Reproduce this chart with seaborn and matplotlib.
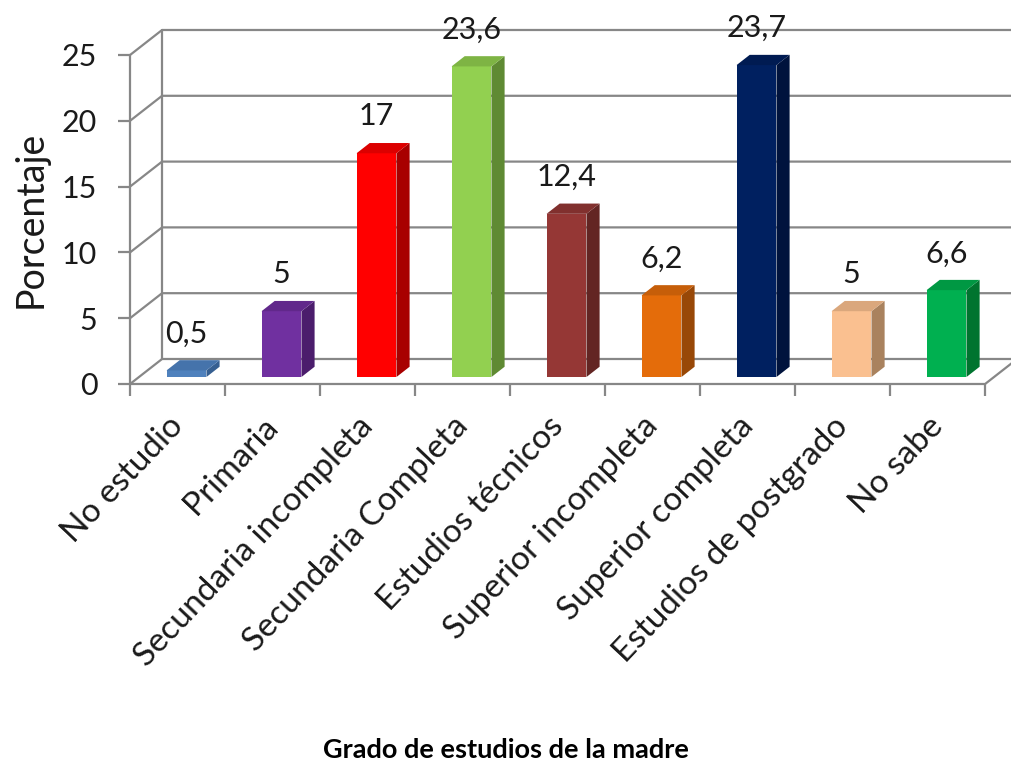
import numpy as np
import pandas as pd
import matplotlib
matplotlib.use('Agg')
import matplotlib.pyplot as plt
import matplotlib.colors as mcolors
from matplotlib.patches import Polygon
from matplotlib.transforms import ScaledTranslation
import seaborn as sns

# ==================== datos ====================
categorias = ['No estudio', 'Primaria', 'Secundaria incompleta', 'Secundaria Completa',
              'Estudios técnicos', 'Superior incompleta', 'Superior completa',
              'Estudios de postgrado', 'No sabe']
porcentajes = [0.5, 5, 17, 23.6, 12.4, 6.2, 23.7, 5, 6.6]
colores = ['#4F81BD', '#7030A0', '#FF0000', '#92D050', '#953735',
           '#E46C0A', '#002060', '#FAC090', '#00B050']
colores_lado = ['#365F91', '#4B1D6C', '#A80000', '#5F8A33', '#632523',
                '#984807', '#00133D', '#A9825E', '#00742F']
y_ticks = [0, 5, 10, 15, 20, 25]
titulo_x = 'Grado de estudios de la madre'
titulo_y = 'Porcentaje'

# ==================== estilo ====================
sns.set_theme(style='white')
plt.rcParams['font.family'] = ['Lato', 'DejaVu Sans']
gris = '#878787'

fig = plt.figure(figsize=(10.12, 7.66), dpi=100)
ax = fig.add_axes([0.1285, 0.4987, 0.8449, 0.4295])

df = pd.DataFrame({'grado': categorias, 'pct': porcentajes})
sns.barplot(data=df, x='grado', y='pct', hue='grado', palette=colores, legend=False,
            width=0.42, saturation=1, linewidth=0, ax=ax, zorder=3)

ax.set_xlim(-0.5, len(categorias) - 0.5)
ax.set_ylim(0, 25)
for s in ax.spines.values():
    s.set_visible(False)
ax.grid(False)

# profundidad del "3D"
dx, dy = 0.337, 1.9
z0, z1 = 0.28, 0.69
xi, xf = -0.5, len(categorias) - 0.5

# pared del fondo, pared lateral y suelo
for v in y_ticks:
    ax.plot([xi, xi + dx, xf + dx + 1], [v, v + dy, v + dy], color=gris, lw=1.6,
            zorder=1, clip_on=False, solid_capstyle='butt')
ax.plot([xi + dx, xi + dx], [dy, 25 + dy], color=gris, lw=1.6, zorder=1, clip_on=False)
ax.plot([xi, xi], [0, 25], color=gris, lw=1.6, zorder=4, clip_on=False)
ax.plot([xi, xf, xf + dx], [0, 0, dy], color=gris, lw=1.6, zorder=4, clip_on=False)

# caras laterales y superiores de las barras
for p, c, cl, val in zip(ax.patches, colores, colores_lado, porcentajes):
    w = p.get_width()
    h = p.get_height()
    x0 = p.get_x() + z0 * dx
    y0 = z0 * dy
    p.set_x(x0)
    p.set_y(y0)
    ddx = (z1 - z0) * dx
    ddy = (z1 - z0) * dy
    lado = Polygon([(x0 + w, y0), (x0 + w + ddx, y0 + ddy), (x0 + w + ddx, y0 + ddy + h),
                    (x0 + w, y0 + h)], closed=True, fc=cl, ec='none', zorder=3, clip_on=False)
    c_top = np.array(mcolors.to_rgb(c)) * 0.6 + np.array(mcolors.to_rgb(cl)) * 0.4
    tapa = Polygon([(x0, y0 + h), (x0 + ddx, y0 + h + ddy), (x0 + w + ddx, y0 + h + ddy),
                    (x0 + w, y0 + h)], closed=True, fc=c_top, ec='none', zorder=3, clip_on=False)
    ax.add_patch(lado)
    ax.add_patch(tapa)
    etiqueta = f'{val:g}'.replace('.', ',')
    ax.text(x0 + w / 2, y0 + h + 2.8, etiqueta, ha='center', va='center',
            fontsize=22, color='#1a1a1a', zorder=5, clip_on=False)

# ejes
ax.set_yticks(y_ticks)
ax.set_yticklabels([str(t) for t in y_ticks], fontsize=22, color='#1a1a1a')
ax.tick_params(axis='y', which='major', left=True, length=8.6, width=1.6, color=gris, pad=15)

ax.set_xticks(range(len(categorias)))
ax.set_xticks(np.arange(-0.5, len(categorias)), minor=True)
ax.tick_params(axis='x', which='minor', bottom=True, length=8.6, width=1.6, color=gris)
ax.tick_params(axis='x', which='major', bottom=False, length=0, pad=27)
ax.set_xticklabels(categorias, rotation=46.5, ha='right', va='center', rotation_mode='anchor',
                   fontsize=24, color='#1a1a1a')
desplaza = ScaledTranslation(0.5 / 72, 0, fig.dpi_scale_trans)
for lbl in ax.get_xticklabels():
    lbl.set_transform(lbl.get_transform() + desplaza)

ax.set_xlabel('')
ax.set_ylabel(titulo_y, fontsize=27, color='#1a1a1a')
ax.yaxis.set_label_coords(-0.095, 0.5)

fig.text(0.5, 1 - 750 / 766, titulo_x, ha='center', va='center', fontsize=19.5,
         fontweight='bold', color='black')

fig.savefig('out.png', dpi=100)
